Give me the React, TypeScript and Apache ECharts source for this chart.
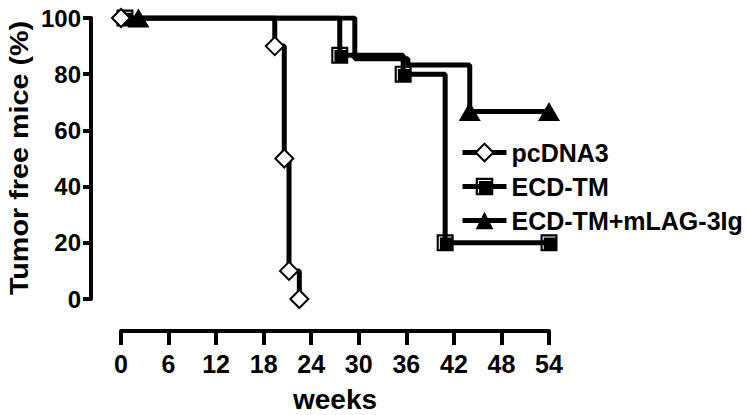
import React, { useEffect, useRef } from "react";
import * as echarts from "echarts";

const xTicks = [0, 6, 12, 18, 24, 30, 36, 42, 48, 54];
const yTicks = [0, 20, 40, 60, 80, 100];

const pcWeeks = [0, 19.4, 20.6, 21.2, 22.5];
const pcValues = [100, 90, 50, 10, 0];

const ecdWeeks = [0.5, 27.6, 35.6, 40.9, 54];
const ecdValues = [100, 86.7, 80, 20, 20];

const lagWeeks = [2.2, 29.5, 36.2, 44, 54];
const lagValues = [100, 85.5, 83.3, 66.7, 66.7];
const lagShowMarker = [true, false, false, true, true];

const seriesNames = ["pcDNA3", "ECD-TM", "ECD-TM+mLAG-3Ig"];
const yTitle = "Tumor free mice (%)";

const boxPath = "path://M0 0 H16 V16 H0 Z M2 2 V14 H3 V3 H14 V2 Z";

export default function App() {
  const ref = useRef<HTMLDivElement>(null);
  useEffect(() => {
    if (!ref.current) return;
    const chart = echarts.init(ref.current, undefined, { renderer: "svg" });
    const font = "'Liberation Sans', Arial, sans-serif";
    const pair = (xs: number[], ys: number[]) => xs.map((x, i) => [x, ys[i]]);
    chart.setOption({
      animation: false,
      backgroundColor: "#ffffff",
      grid: { left: 121, right: 197, top: 18, bottom: 116, containLabel: false, outerBoundsMode: "none" },
      legend: {
        orient: "vertical",
        left: 460,
        top: 140,
        padding: 0,
        itemWidth: 44,
        itemHeight: 22,
        itemGap: 9,
        data: seriesNames,
        lineStyle: { width: 5, color: "#000" },
        textStyle: { fontFamily: font, fontWeight: "bold", fontSize: 25, color: "#000", lineHeight: 22 },
      },
      graphic: [
        {
          type: "text",
          x: 20,
          y: 158,
          rotation: Math.PI / 2,
          scaleX: 1.15,
          style: {
            text: yTitle,
            fontFamily: font,
            fontWeight: "bold",
            fontSize: 25,
            fill: "#000",
            align: "center",
            verticalAlign: "middle",
          },
        },
      ],
      xAxis: {
        type: "value",
        min: 0,
        max: 54,
        interval: 6,
        offset: 32,
        name: "weeks",
        nameLocation: "middle",
        nameGap: 54,
        nameTextStyle: { fontFamily: font, fontWeight: "bold", fontSize: 28, color: "#000" },
        axisLine: { show: true, onZero: false, lineStyle: { color: "#000", width: 4 } },
        axisTick: { show: true, length: 14, lineStyle: { color: "#000", width: 4 } },
        splitLine: { show: false },
        axisLabel: {
          fontFamily: font,
          fontWeight: "bold",
          fontSize: 25,
          color: "#000",
          margin: 20,
          customValues: xTicks,
        },
      },
      yAxis: {
        type: "value",
        min: 0,
        max: 100,
        interval: 20,
        offset: 30,
        axisLine: { show: true, onZero: false, lineStyle: { color: "#000", width: 4 } },
        axisTick: { show: true, length: 8, lineStyle: { color: "#000", width: 4 } },
        splitLine: { show: false },
        axisLabel: {
          fontFamily: font,
          fontWeight: "bold",
          fontSize: 24,
          color: "#000",
          margin: 10,
          customValues: yTicks,
        },
      },
      series: [
        {
          name: seriesNames[2],
          type: "line",
          step: "end",
          z: 2,
          symbol: "triangle",
          symbolSize: [22, 19],
          lineStyle: { color: "#000", width: 5 },
          itemStyle: { color: "#000", borderColor: "#000", borderWidth: 0 },
          data: pair(lagWeeks, lagValues).map((p, i) =>
            lagShowMarker[i] ? { value: p } : { value: p, symbol: "none" }
          ),
        },
        {
          name: seriesNames[1],
          type: "line",
          step: "end",
          z: 3,
          symbol: boxPath,
          symbolSize: 17,
          lineStyle: { color: "#000", width: 5 },
          itemStyle: { color: "#000" },
          data: pair(ecdWeeks, ecdValues),
        },
        {
          name: seriesNames[0],
          type: "line",
          step: "end",
          z: 4,
          symbol: "diamond",
          symbolSize: [18, 18],
          lineStyle: { color: "#000", width: 5 },
          itemStyle: { color: "#fff", borderColor: "#000", borderWidth: 2 },
          data: pair(pcWeeks, pcValues),
        },
      ],
    });
    return () => chart.dispose();
  }, []);
  return (
    <div
      ref={ref}
      style={{ position: "absolute", left: 0, top: 0, width: 746, height: 415, background: "#fff" }}
    />
  );
}
